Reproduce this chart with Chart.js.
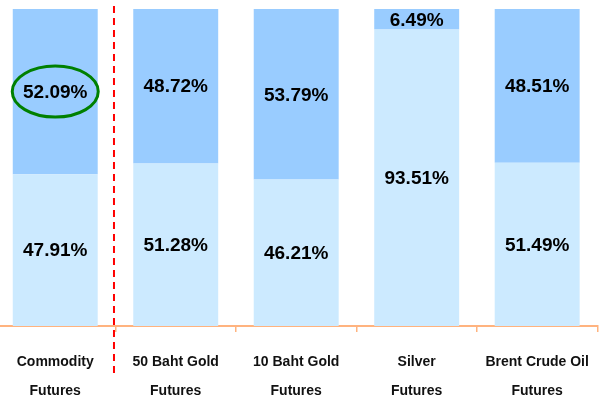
<!DOCTYPE html>
<html>
<head>
<meta charset="utf-8">
<script src="https://cdn.jsdelivr.net/npm/chart.js@4"></script>
<style>
  html, body { margin: 0; padding: 0; background: #fff; overflow: hidden; }
  #wrap { position: absolute; left: -5px; top: 0; width: 610px; height: 422px; }
</style>
</head>
<body>
<div id="wrap"><canvas id="chart"></canvas></div>
<script>
const categories = [
  ["Commodity", "Futures"],
  ["50 Baht Gold", "Futures"],
  ["10 Baht Gold", "Futures"],
  ["Silver", "Futures"],
  ["Brent Crude Oil", "Futures"],
];
const lowerShare = [47.91, 51.28, 46.21, 93.51, 51.49];
const upperShare = [52.09, 48.72, 53.79, 6.49, 48.51];

const barLabels = {
  id: "barLabels",
  afterDatasetsDraw(chart) {
    const ctx = chart.ctx;
    ctx.save();
    ctx.font = "bold 19px 'Liberation Sans', Arial, sans-serif";
    ctx.fillStyle = "#000";
    ctx.textAlign = "center";
    ctx.textBaseline = "middle";
    chart.data.datasets.forEach((ds, i) => {
      chart.getDatasetMeta(i).data.forEach((bar, j) => {
        const mid = (bar.y + bar.base) / 2;
        ctx.fillText(ds.data[j].toFixed(2) + "%", bar.x, mid + 1);
      });
    });
    ctx.restore();
  },
};

const marks = {
  id: "marks",
  afterDraw(chart) {
    const ctx = chart.ctx;
    const x = chart.scales.x;
    // red dashed divider between first and second category
    const divX = (x.getPixelForValue(0) + x.getPixelForValue(1)) / 2 - 1.5;
    ctx.save();
    ctx.strokeStyle = "#ff0000";
    ctx.lineWidth = 2;
    ctx.setLineDash([7, 5]);
    ctx.beginPath();
    ctx.moveTo(divX, 6);
    ctx.lineTo(divX, 375);
    ctx.stroke();
    ctx.restore();

    // green ellipse around the first upper label
    const bar = chart.getDatasetMeta(1).data[0];
    const cy = (bar.y + bar.base) / 2;
    ctx.save();
    ctx.strokeStyle = "#008000";
    ctx.lineWidth = 3;
    ctx.beginPath();
    ctx.ellipse(bar.x, cy, 43, 25.5, 0, 0, Math.PI * 2);
    ctx.stroke();
    ctx.restore();
  },
};

new Chart(document.getElementById("chart"), {
  type: "bar",
  data: {
    labels: categories,
    datasets: [
      { label: "Lower", data: lowerShare, backgroundColor: "#cceaff" },
      { label: "Upper", data: upperShare, backgroundColor: "#99ccff" },
    ],
  },
  options: {
    responsive: true,
    maintainAspectRatio: false,
    animation: false,
    layout: { padding: { top: 9, right: 1, left: 0, bottom: 0 } },
    categoryPercentage: 1,
    barPercentage: 0.705,
    plugins: {
      legend: { display: false },
      tooltip: { enabled: false },
    },
    scales: {
      x: {
        stacked: true,
        border: { color: "#ffb37f", width: 2 },
        grid: {
          drawOnChartArea: false,
          color: "#ffb37f",
          tickLength: 6,
          lineWidth: 1.5,
        },
        ticks: {
          color: "#111",
          padding: 16,
          maxRotation: 0,
          font: { family: "'Liberation Sans', Arial, sans-serif", size: 14, weight: "bold", lineHeight: 2.07 },
        },
      },
      y: {
        stacked: true,
        display: false,
        min: 0,
        max: 100,
      },
    },
  },
  plugins: [barLabels, marks],
});
</script>
</body>
</html>
